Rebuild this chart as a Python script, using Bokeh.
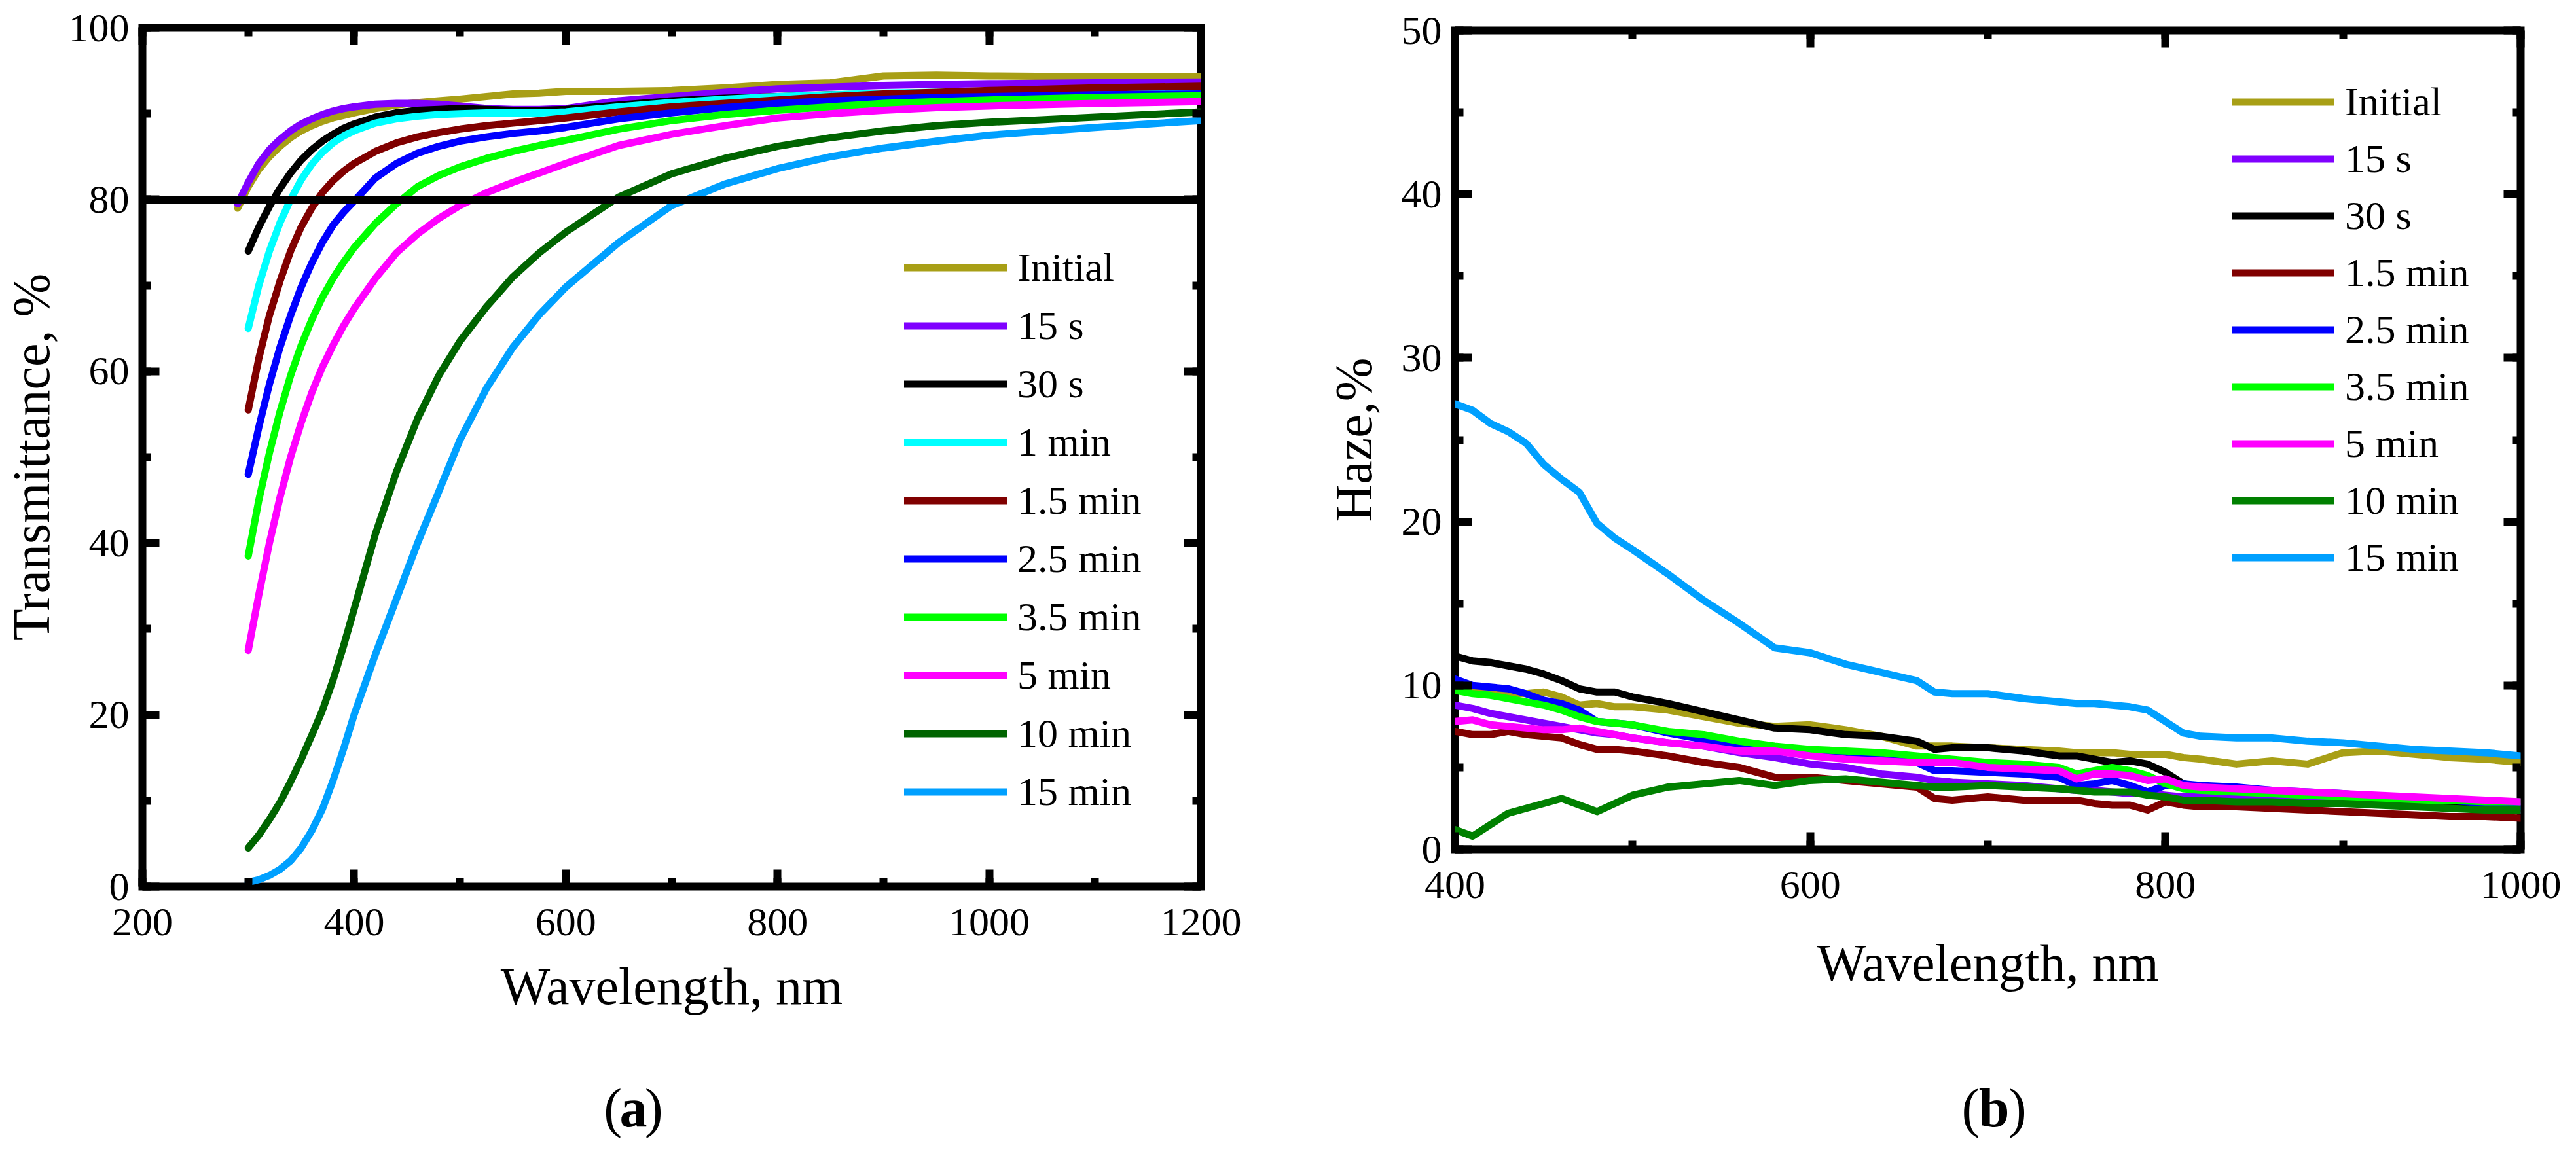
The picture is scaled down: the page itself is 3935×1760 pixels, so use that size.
import math
from bokeh.plotting import figure
from bokeh.models import (Range1d, LinearAxis, SingleIntervalTicker, CustomJSTickFormatter,
                          Span, Legend, LegendItem)
from bokeh.layouts import row, column
from bokeh.core.properties import value
from bokeh.embed import file_html
from bokeh.resources import INLINE

FONT = "Liberation Serif"
NAN = float("nan")

# ---------------- panel (a): Transmittance ----------------
WL_T = [290, 300, 310, 320, 330, 340, 350, 360, 370, 380, 390, 400, 420, 440, 460, 480,
        500, 525, 550, 575, 600, 650, 700, 750, 800, 850, 900, 950, 1000, 1100, 1200]

T_INITIAL = [79.0, 81.5, 83.5, 85.0, 86.2, 87.2, 88.0, 88.6, 89.1, 89.5, 89.8, 90.1, 90.6, 91.0, 91.3, 91.5,
             91.7, 92.0, 92.3, 92.4, 92.6, 92.6, 92.7, 93.0, 93.4, 93.6, 94.4, 94.5, 94.4, 94.3, 94.3]
T_15S = [79.5, 82.0, 84.2, 85.8, 87.0, 88.0, 88.8, 89.4, 89.9, 90.3, 90.6, 90.8, 91.1, 91.2, 91.2, 91.1,
         90.9, 90.6, 90.5, 90.5, 90.6, 91.5, 92.0, 92.5, 92.9, 93.1, 93.3, 93.4, 93.5, 93.6, 93.7]
T_30S = [NAN, 74.0, 76.8, 79.2, 81.3, 83.1, 84.6, 85.8, 86.8, 87.6, 88.3, 88.8, 89.6, 90.1, 90.4, 90.5,
         90.6, 90.5, 90.4, 90.4, 90.5, 91.0, 91.5, 91.8, 92.0, 92.2, 92.3, 92.4, 92.5, 92.6, 92.7]
T_1MIN = [NAN, 65.0, 70.0, 74.0, 77.3, 80.0, 82.3, 84.1, 85.5, 86.6, 87.4, 88.0, 88.9, 89.4, 89.7, 89.9,
          90.0, 90.1, 90.1, 90.1, 90.2, 90.8, 91.3, 91.7, 92.0, 92.2, 92.4, 92.5, 92.6, 92.8, 92.9]
T_1_5MIN = [NAN, 55.5, 61.5, 66.5, 70.5, 74.0, 76.8, 79.0, 80.8, 82.2, 83.3, 84.2, 85.6, 86.6, 87.3, 87.8,
            88.2, 88.6, 88.9, 89.2, 89.5, 90.2, 90.8, 91.2, 91.6, 92.0, 92.3, 92.5, 92.7, 93.0, 93.2]
T_2_5MIN = [NAN, 48.0, 53.5, 58.5, 62.8, 66.5, 69.8, 72.6, 75.0, 77.0, 78.5, 79.8, 82.5, 84.2, 85.4, 86.2,
            86.8, 87.3, 87.7, 88.0, 88.4, 89.4, 90.1, 90.7, 91.2, 91.5, 91.7, 91.9, 92.0, 92.2, 92.3]
T_3_5MIN = [NAN, 38.5, 45.0, 50.5, 55.3, 59.5, 63.0, 66.0, 68.6, 70.8, 72.7, 74.4, 77.2, 79.5, 81.5, 82.8,
            83.8, 84.8, 85.6, 86.3, 86.9, 88.2, 89.2, 89.9, 90.4, 90.8, 91.2, 91.4, 91.6, 91.9, 92.1]
T_5MIN = [NAN, 27.5, 34.0, 40.0, 45.3, 50.0, 54.0, 57.5, 60.5, 63.0, 65.3, 67.3, 70.8, 73.8, 76.0, 77.8,
          79.3, 80.8, 82.0, 83.1, 84.2, 86.3, 87.6, 88.6, 89.5, 90.0, 90.4, 90.7, 90.9, 91.2, 91.4]
T_10MIN = [NAN, 4.5, 6.0, 7.8, 9.8, 12.2, 14.8, 17.6, 20.5, 24.0, 28.0, 32.3, 41.0, 48.3, 54.5, 59.5,
           63.5, 67.5, 71.0, 73.8, 76.2, 80.3, 83.0, 84.8, 86.2, 87.2, 88.0, 88.6, 89.0, 89.6, 90.2]
T_15MIN = [NAN, 0.5, 0.8, 1.3, 2.0, 3.0, 4.5, 6.5, 9.0, 12.3, 16.0, 20.0, 27.0, 33.5, 40.0, 46.0,
           52.0, 58.0, 62.8, 66.6, 69.8, 75.0, 79.3, 81.8, 83.6, 85.0, 86.0, 86.8, 87.5, 88.4, 89.2]

T_SERIES = [T_INITIAL, T_15S, T_30S, T_1MIN, T_1_5MIN, T_2_5MIN, T_3_5MIN, T_5MIN, T_10MIN, T_15MIN]
T_LABELS = ["Initial", "15 s", "30 s", "1 min", "1.5 min", "2.5 min", "3.5 min", "5 min", "10 min", "15 min"]
T_COLORS = ["#A89F16", "#8000FF", "#000000", "#00FFFF", "#800000", "#0000FF", "#00FF00",
            "#FF00FF", "#006400", "#00A0FF"]
T_THRESHOLD = 80

# ---------------- panel (b): Haze ----------------
WL_H = [400, 410, 420, 430, 440, 450, 460, 470, 480, 490, 500, 520, 540, 560, 580, 600, 620, 640,
        660, 670, 680, 700, 720, 740, 750, 760, 770, 780, 790, 800, 810, 820, 840, 860, 880, 900,
        920, 940, 960, 980, 1000]

H_INITIAL = [10.1, 9.9, 9.7, 9.5, 9.5, 9.6, 9.3, 8.8, 8.9, 8.7, 8.7, 8.5, 8.1, 7.7, 7.5, 7.6, 7.3, 6.9,
             6.3, 6.3, 6.3, 6.2, 6.1, 6.0, 5.9, 5.9, 5.9, 5.8, 5.8, 5.8, 5.6, 5.5, 5.2, 5.4, 5.2, 5.9,
             6.0, 5.8, 5.6, 5.5, 5.3]
H_15S = [8.8, 8.6, 8.3, 8.1, 7.9, 7.7, 7.5, 7.3, 7.1, 7.0, 6.8, 6.5, 6.3, 5.9, 5.6, 5.2, 5.0, 4.6,
         4.4, 4.2, 4.1, 4.0, 3.9, 3.7, 3.6, 3.6, 3.5, 3.4, 3.4, 3.3, 3.2, 3.2, 3.1, 3.0, 2.9, 2.9,
         2.8, 2.7, 2.6, 2.5, 2.4]
H_30S = [11.8, 11.5, 11.4, 11.2, 11.0, 10.7, 10.3, 9.8, 9.6, 9.6, 9.3, 8.9, 8.4, 7.9, 7.4, 7.3, 7.0, 6.9,
         6.6, 6.1, 6.2, 6.2, 6.0, 5.7, 5.7, 5.5, 5.3, 5.4, 5.2, 4.7, 4.0, 3.8, 3.6, 3.5, 3.4, 3.2,
         3.1, 2.9, 2.8, 2.7, 2.5]
H_1_5MIN = [7.2, 7.0, 7.0, 7.2, 7.0, 6.9, 6.8, 6.4, 6.1, 6.1, 6.0, 5.7, 5.3, 5.0, 4.4, 4.4, 4.2, 4.0,
            3.8, 3.1, 3.0, 3.2, 3.0, 3.0, 3.0, 2.8, 2.7, 2.7, 2.4, 2.9, 2.7, 2.6, 2.6, 2.5, 2.4, 2.3,
            2.2, 2.1, 2.0, 2.0, 1.9]
H_2_5MIN = [10.4, 10.0, 9.9, 9.8, 9.5, 9.1, 8.9, 8.5, 7.8, 7.7, 7.6, 7.1, 6.7, 6.3, 6.0, 5.8, 5.7, 5.6,
            5.3, 4.8, 4.8, 4.7, 4.6, 4.4, 3.9, 4.0, 4.2, 3.9, 3.5, 3.9, 4.0, 3.9, 3.8, 3.6, 3.5, 3.4,
            3.2, 3.1, 3.0, 2.8, 2.6]
H_3_5MIN = [9.7, 9.5, 9.4, 9.2, 9.0, 8.8, 8.5, 8.1, 7.8, 7.7, 7.6, 7.2, 7.0, 6.6, 6.3, 6.1, 6.0, 5.9,
            5.7, 5.6, 5.5, 5.3, 5.2, 5.0, 4.6, 4.8, 5.0, 4.8, 4.5, 4.0, 3.7, 3.6, 3.5, 3.4, 3.3, 3.2,
            3.1, 3.0, 3.0, 2.9, 2.9]
H_5MIN = [7.8, 7.9, 7.6, 7.5, 7.4, 7.3, 7.3, 7.4, 7.2, 7.0, 6.8, 6.5, 6.3, 6.0, 6.0, 5.7, 5.5, 5.4,
          5.3, 5.3, 5.3, 5.0, 4.9, 4.8, 4.3, 4.6, 4.6, 4.5, 4.2, 4.3, 3.9, 3.8, 3.7, 3.6, 3.5, 3.4,
          3.3, 3.2, 3.1, 3.0, 2.9]
H_10MIN = [1.2, 0.8, 1.5, 2.2, 2.5, 2.8, 3.1, 2.7, 2.3, 2.8, 3.3, 3.8, 4.0, 4.2, 3.9, 4.2, 4.3, 4.1,
           3.9, 3.8, 3.8, 3.9, 3.8, 3.7, 3.6, 3.5, 3.5, 3.5, 3.3, 3.2, 3.0, 3.0, 2.9, 2.9, 2.8, 2.8,
           2.7, 2.6, 2.5, 2.4, 2.4]
H_15MIN = [27.2, 26.8, 26.0, 25.5, 24.8, 23.5, 22.6, 21.8, 19.9, 19.0, 18.3, 16.8, 15.2, 13.8, 12.3, 12.0,
           11.3, 10.8, 10.3, 9.6, 9.5, 9.5, 9.2, 9.0, 8.9, 8.9, 8.8, 8.7, 8.5, 7.8, 7.1, 6.9, 6.8, 6.8,
           6.6, 6.5, 6.3, 6.1, 6.0, 5.9, 5.7]

H_SERIES = [H_INITIAL, H_15S, H_30S, H_1_5MIN, H_2_5MIN, H_3_5MIN, H_5MIN, H_10MIN, H_15MIN]
H_LABELS = ["Initial", "15 s", "30 s", "1.5 min", "2.5 min", "3.5 min", "5 min", "10 min", "15 min"]
H_COLORS = ["#A89F16", "#8000FF", "#000000", "#800000", "#0000FF", "#00FF00", "#FF00FF",
            "#008000", "#00A0FF"]

# captions below the panels
CAP_PARTS = ["(", "a", ")"]
CAP_PARTS_B = ["(", "b", ")"]

LINE_W = 11
TOP_H = 1640
CAP_H = 104


def empty_axis(ticker):
    ax = LinearAxis(ticker=ticker, formatter=CustomJSTickFormatter(code="return ''"))
    ax.major_label_text_font_size = "0px"
    ax.major_label_standoff = 0
    return ax


def style_axis(ax):
    ax.axis_line_color = None
    ax.major_tick_in = 26
    ax.major_tick_out = 0
    ax.minor_tick_in = 13
    ax.minor_tick_out = 0
    ax.major_tick_line_width = 12
    ax.minor_tick_line_width = 12
    ax.major_tick_line_color = "black"
    ax.minor_tick_line_color = "black"
    ax.major_label_text_font = FONT
    ax.major_label_text_color = "black"


def make_panel(width, borders, xr, yr, xint, yint, ylabel, xstand, ystand):
    left, right, top, bottom = borders
    p = figure(width=width, height=TOP_H, x_range=Range1d(*xr), y_range=Range1d(*yr),
               output_backend="svg", toolbar_location=None,
               min_border_left=left, min_border_right=right,
               min_border_top=top, min_border_bottom=bottom)
    p.grid.visible = False
    p.background_fill_color = "white"
    p.border_fill_color = "white"
    p.outline_line_color = "black"
    p.outline_line_width = 12
    p.outline_line_join = "miter"
    xa = p.below[0]
    ya = p.left[0]
    xt = SingleIntervalTicker(interval=xint, num_minor_ticks=2)
    yt = SingleIntervalTicker(interval=yint, num_minor_ticks=2)
    xa.ticker = xt
    ya.ticker = yt
    top_ax = empty_axis(xt)
    right_ax = empty_axis(yt)
    p.add_layout(top_ax, "above")
    p.add_layout(right_ax, "right")
    for ax in [xa, ya, top_ax, right_ax]:
        style_axis(ax)
    for ax in [xa, ya]:
        ax.major_label_text_font_size = "62px"
        ax.axis_label_text_font = FONT
        ax.axis_label_text_font_style = "normal"
        ax.axis_label_text_font_size = "80px"
        ax.axis_label_text_color = "black"
    xa.major_label_standoff = 34
    ya.major_label_standoff = 20
    xa.axis_label = "Wavelength, nm"
    ya.axis_label = ylabel
    xa.axis_label_standoff = xstand
    ya.axis_label_standoff = ystand
    return p


def add_lines(p, wl, series, labels, colors, legend_loc, pitch):
    items = []
    for ys, lab, col in zip(series, labels, colors):
        r = p.line(wl, ys, line_color=col, line_width=LINE_W, line_cap="round", line_join="round")
        items.append(LegendItem(label=lab, renderers=[r]))
    leg = Legend(items=items, location=legend_loc, padding=0, margin=0, spacing=0,
                 glyph_width=157, glyph_height=pitch, label_height=pitch, label_standoff=16,
                 border_line_color=None, background_fill_alpha=0,
                 label_text_font=FONT, label_text_font_size="62px", label_text_color="black")
    p.add_layout(leg)


def make_caption(width, parts, xs):
    c = figure(width=width, height=CAP_H, x_range=Range1d(0, width), y_range=Range1d(0, CAP_H),
               output_backend="svg", toolbar_location=None, min_border=0,
               x_axis_type=None, y_axis_type=None)
    c.outline_line_color = None
    c.grid.visible = False
    y = [52]
    c.text(x=[xs[0]], y=y, text=[parts[0]], text_font=value(FONT), text_font_size="84px",
           text_align="right", text_baseline="alphabetic", text_color="black")
    c.text(x=[xs[1]], y=y, text=[parts[1]], text_font=value(FONT), text_font_size="84px",
           text_font_style="bold", text_align="center", text_baseline="alphabetic", text_color="black")
    c.text(x=[xs[2]], y=y, text=[parts[2]], text_font=value(FONT), text_font_size="84px",
           text_align="left", text_baseline="alphabetic", text_color="black")
    return c


# panel (a)
pa = make_panel(1960, (215, 126, 42, TOP_H - 1354), (200, 1200), (0, 100), 200, 20,
                "Transmittance, %", 31, 10)
add_lines(pa, WL_T, T_SERIES, T_LABELS, T_COLORS, (1164, 100), 89)
pa.add_layout(Span(location=T_THRESHOLD, dimension="width", line_color="black", line_width=12))

# panel (b)
pb = make_panel(1959, (262, 69, 46, TOP_H - 1297), (400, 1000), (0, 50), 200, 10,
                "Haze,%", 52, 26)
add_lines(pb, WL_H, H_SERIES, H_LABELS, H_COLORS, (1187, 402), 87)

ca = make_caption(1960, CAP_PARTS, [888, 909, 930])
cb = make_caption(1959, CAP_PARTS_B, [965, 991, 1017])

layout = row(column(pa, ca), column(pb, cb))
open("out.html", "w").write(file_html(layout, INLINE))
